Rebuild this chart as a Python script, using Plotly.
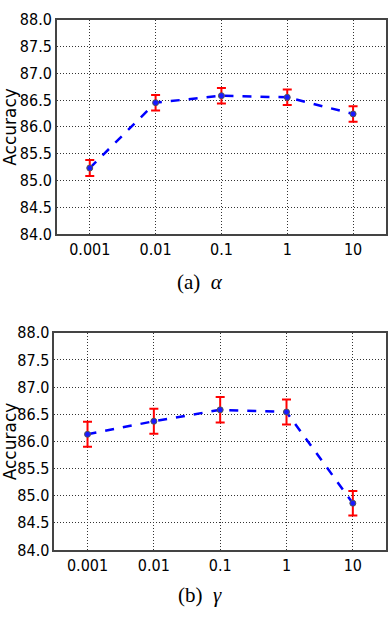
import plotly.graph_objects as go
from plotly.subplots import make_subplots

params = ["0.001", "0.01", "0.1", "1", "10"]

alpha_acc = [85.23, 86.45, 86.58, 86.55, 86.24]
alpha_err = [0.15, 0.145, 0.145, 0.145, 0.145]

gamma_acc = [86.13, 86.37, 86.58, 86.54, 84.86]
gamma_err = [0.23, 0.23, 0.235, 0.23, 0.225]

y_ticks = [84.0, 84.5, 85.0, 85.5, 86.0, 86.5, 87.0, 87.5, 88.0]
captions = ["(a)&nbsp;&nbsp;<i>α</i>", "(b)&nbsp;&nbsp;<i>γ</i>"]
y_title = "Accuracy"

tick_font = dict(family="DejaVu Sans Condensed, DejaVu Sans", size=16, color="#000000")
title_font = dict(family="DejaVu Sans", size=17, color="#000000")
caption_font = dict(family="Liberation Serif", size=21, color="#000000")

# plot areas in pixels (left, right, top, bottom)
boxes = [(57, 387, 11, 232), (54.5, 387, 334, 558)]
caption_y = [282, 605]

fig = make_subplots(rows=2, cols=1)

for row, (acc, err) in enumerate([(alpha_acc, alpha_err), (gamma_acc, gamma_err)], start=1):
    fig.add_trace(
        go.Scatter(
            x=params,
            y=acc,
            mode="lines+markers",
            line=dict(color="#0000ff", width=2.5, dash="dash"),
            marker=dict(size=6, color="#1a1aff", line=dict(color="#555555", width=1)),
            error_y=dict(type="data", array=err, color="#ff0000", thickness=2, width=4.5),
            showlegend=False,
        ),
        row=row,
        col=1,
    )

axis_style = dict(
    showgrid=True,
    gridcolor="#333333",
    gridwidth=1,
    griddash="1px,2px",
    showline=True,
    linecolor="#444444",
    linewidth=1.5,
    mirror=True,
    ticks="",
    zeroline=False,
    tickfont=tick_font,
)

fig.update_xaxes(type="category", range=[-0.5, 4.5], **axis_style)
fig.update_yaxes(
    range=[84.0, 88.0],
    tickvals=y_ticks,
    ticktext=[f"{v:.1f}" for v in y_ticks],
    **axis_style,
)

annotations = []
for (l, r, t, b), cy, cap in zip(boxes, caption_y, captions):
    annotations.append(dict(
        text=y_title, x=10 / 388, y=1 - (t + b) / 2 / 620, xref="paper", yref="paper",
        xanchor="center", yanchor="middle", textangle=-90, showarrow=False, font=title_font,
    ))
    annotations.append(dict(
        text=cap, x=201 / 388, y=1 - cy / 620, xref="paper", yref="paper",
        xanchor="center", yanchor="middle", showarrow=False, font=caption_font,
    ))

fig.update_layout(
    width=388,
    height=620,
    paper_bgcolor="white",
    plot_bgcolor="white",
    margin=dict(l=0, r=0, t=0, b=0),
    xaxis=dict(domain=[boxes[0][0] / 388, boxes[0][1] / 388]),
    yaxis=dict(domain=[1 - boxes[0][3] / 620, 1 - boxes[0][2] / 620]),
    xaxis2=dict(domain=[boxes[1][0] / 388, boxes[1][1] / 388]),
    yaxis2=dict(domain=[1 - boxes[1][3] / 620, 1 - boxes[1][2] / 620]),
    annotations=annotations,
)

# the page body has a default 8px margin; drop it so the figure fills the window
fig.write_html(
    "out.html",
    config={"displayModeBar": False},
    post_script="document.body.style.margin = '0';",
)
